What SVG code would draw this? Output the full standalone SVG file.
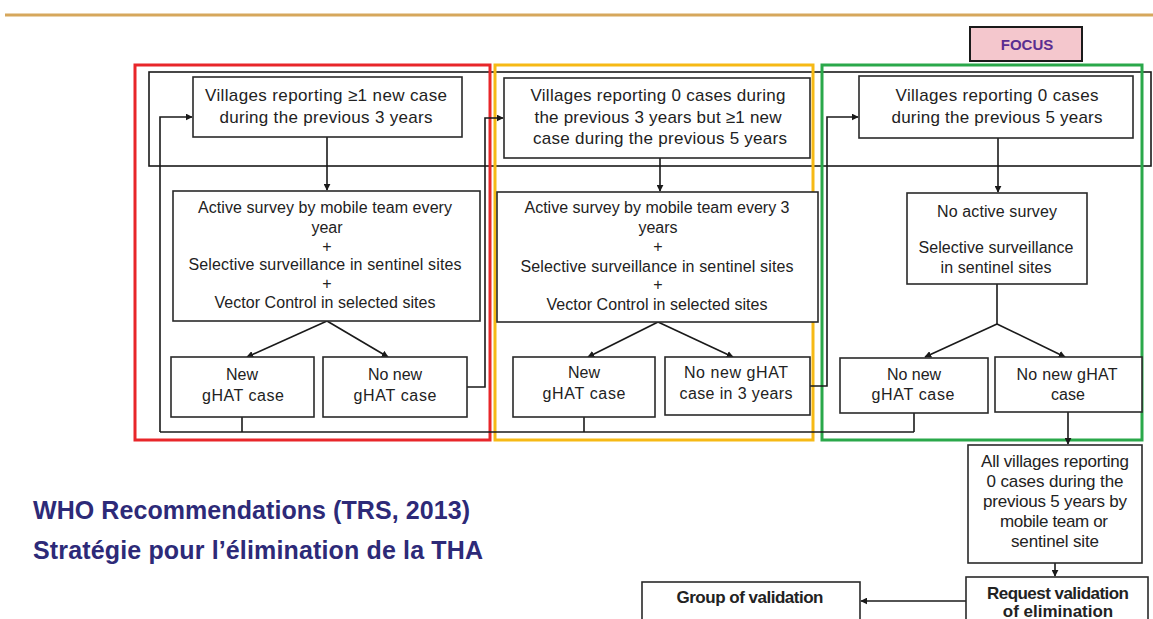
<svg xmlns="http://www.w3.org/2000/svg" width="1153" height="619" viewBox="0 0 1153 619">
<defs>
<marker id="ah" viewBox="0 0 10 10" refX="9" refY="5" markerWidth="7" markerHeight="7" markerUnits="userSpaceOnUse" orient="auto"><path d="M0,0 L10,5 L0,10 z" fill="#1a1a1a"/></marker>
<style>
.box{fill:#fff;stroke:#2a2a2a;stroke-width:1.6}
.t{font-family:"Liberation Sans",Arial,sans-serif;fill:#222;text-anchor:middle}
.s16{font-size:17px}
.s15{font-size:16px}
.b{font-weight:bold}
.ln{fill:none;stroke:#1a1a1a;stroke-width:1.6}
.ar{fill:none;stroke:#1a1a1a;stroke-width:1.6;marker-end:url(#ah)}
.title{font-family:"Liberation Sans",Arial,sans-serif;font-weight:bold;font-size:25px;fill:#2d2a78}
</style>
</defs>
<rect width="1153" height="619" fill="#fff"/>
<line x1="5" y1="15" x2="1153" y2="15" stroke="#d6a75c" stroke-width="3"/>

<g id="band"><rect x="149" y="72" width="1002" height="94" class="ln"/></g>

<g id="frames">
<rect x="135" y="65" width="355" height="375" fill="none" stroke="#e8262a" stroke-width="3"/>
<rect x="495" y="65" width="318" height="375" fill="none" stroke="#f6b915" stroke-width="3"/>
<rect x="822" y="65" width="320" height="375" fill="none" stroke="#2aa84a" stroke-width="3"/>
</g>

<g id="focus">
<rect x="970" y="27" width="112" height="34" fill="#f4c7cd" stroke="#1a1a1a" stroke-width="2"/>
<text x="1027" y="50" class="t b" style="font-size:15px;fill:#5a2d91">FOCUS</text>
</g>

<g id="connectors">
<line x1="327" y1="137" x2="327" y2="190" class="ar"/>
<line x1="327" y1="321" x2="247" y2="357" class="ar"/>
<line x1="327" y1="321" x2="388" y2="357" class="ar"/>
<line x1="242" y1="417" x2="242" y2="432" class="ln"/>
<line x1="584" y1="417" x2="584" y2="432" class="ln"/>
<line x1="914" y1="413" x2="914" y2="432" class="ln"/>
<line x1="160" y1="432" x2="914" y2="432" class="ln"/>
<path d="M160,432 V117 H192" class="ar"/>
<path d="M467,387 H485 V118 H503" class="ar"/>
<line x1="660" y1="158" x2="660" y2="191" class="ar"/>
<line x1="658" y1="322" x2="588" y2="357" class="ar"/>
<line x1="658" y1="322" x2="733" y2="357" class="ar"/>
<path d="M810,386 H827 V117 H858" class="ar"/>
<line x1="998" y1="138" x2="998" y2="192" class="ar"/>
<line x1="997" y1="284" x2="997" y2="324" class="ln"/>
<line x1="997" y1="324" x2="925" y2="357" class="ar"/>
<line x1="997" y1="324" x2="1065" y2="357" class="ar"/>
<line x1="1068" y1="412" x2="1068" y2="444" class="ar"/>
<line x1="1055" y1="563" x2="1055" y2="576" class="ar"/>
<line x1="966" y1="601" x2="861" y2="601" class="ar"/>
</g>

<g id="nodeA">
<rect x="193" y="77" width="269" height="60" class="box"/>
<text x="326" y="101" class="t s16" textLength="242" lengthAdjust="spacing">Villages reporting ≥1 new case</text>
<text x="326" y="123" class="t s16" textLength="213" lengthAdjust="spacing">during the previous 3 years</text>
</g>
<g id="nodeB">
<rect x="173" y="191" width="307" height="130" class="box"/>
<text x="325" y="213" class="t s15" textLength="254" lengthAdjust="spacing">Active survey by mobile team every</text>
<text x="327" y="233" class="t s15">year</text>
<text x="327" y="252" class="t s15">+</text>
<text x="325" y="270" class="t s15" textLength="273" lengthAdjust="spacing">Selective surveillance  in sentinel sites</text>
<text x="327" y="289" class="t s15">+</text>
<text x="325" y="308" class="t s15" textLength="221" lengthAdjust="spacing">Vector Control in selected sites</text>
</g>
<g id="nodeC">
<rect x="171" y="357" width="143" height="60" class="box"/>
<text x="242" y="380" class="t s15">New</text>
<text x="243" y="401" class="t s15" textLength="82" lengthAdjust="spacing">gHAT case</text>
</g>
<g id="nodeD">
<rect x="323" y="357" width="144" height="60" class="box"/>
<text x="395" y="380" class="t s15">No new</text>
<text x="395" y="401" class="t s15" textLength="83" lengthAdjust="spacing">gHAT case</text>
</g>

<g id="nodeE">
<rect x="504" y="78" width="306" height="80" class="box"/>
<text x="658" y="101" class="t s16" textLength="255" lengthAdjust="spacing">Villages reporting 0 cases during</text>
<text x="658" y="123" class="t s16" textLength="247" lengthAdjust="spacing">the previous 3 years but ≥1 new</text>
<text x="660" y="144" class="t s16" textLength="254" lengthAdjust="spacing">case during the previous 5 years</text>
</g>
<g id="nodeF">
<rect x="497" y="192" width="321" height="130" class="box"/>
<text x="657" y="213" class="t s15" textLength="265" lengthAdjust="spacing">Active survey by mobile team every 3</text>
<text x="658" y="233" class="t s15">years</text>
<text x="658" y="252" class="t s15">+</text>
<text x="657" y="272" class="t s15" textLength="273" lengthAdjust="spacing">Selective surveillance  in sentinel sites</text>
<text x="658" y="290" class="t s15">+</text>
<text x="657" y="310" class="t s15" textLength="221" lengthAdjust="spacing">Vector Control in selected sites</text>
</g>
<g id="nodeG">
<rect x="513" y="357" width="142" height="60" class="box"/>
<text x="584" y="378" class="t s15">New</text>
<text x="584" y="399" class="t s15" textLength="83" lengthAdjust="spacing">gHAT case</text>
</g>
<g id="nodeH">
<rect x="665" y="357" width="145" height="58" class="box"/>
<text x="736" y="378" class="t s15" textLength="104" lengthAdjust="spacing">No new gHAT</text>
<text x="736" y="399" class="t s15" textLength="113" lengthAdjust="spacing">case in 3 years</text>
</g>

<g id="nodeI">
<rect x="859" y="76" width="274" height="62" class="box"/>
<text x="997" y="101" class="t s16" textLength="203" lengthAdjust="spacing">Villages reporting 0 cases</text>
<text x="997" y="123" class="t s16" textLength="211" lengthAdjust="spacing">during the previous 5 years</text>
</g>
<g id="nodeJ">
<rect x="907" y="193" width="180" height="91" class="box"/>
<text x="997" y="217" class="t s15" textLength="120" lengthAdjust="spacing">No active survey</text>
<text x="996" y="253" class="t s15" textLength="155" lengthAdjust="spacing">Selective surveillance</text>
<text x="996" y="273" class="t s15" textLength="111" lengthAdjust="spacing">in sentinel sites</text>
</g>
<g id="nodeK">
<rect x="840" y="358" width="148" height="55" class="box"/>
<text x="914" y="380" class="t s15">No new</text>
<text x="913" y="400" class="t s15" textLength="83" lengthAdjust="spacing">gHAT case</text>
</g>
<g id="nodeL">
<rect x="995" y="357" width="147" height="55" class="box"/>
<text x="1067" y="380" class="t s15" textLength="101" lengthAdjust="spacing">No new  gHAT</text>
<text x="1068" y="400" class="t s15">case</text>
</g>

<g id="nodeM">
<rect x="968" y="445" width="174" height="118" class="box"/>
<text x="1055" y="467" class="t s16" textLength="148" lengthAdjust="spacing">All villages reporting</text>
<text x="1055" y="487" class="t s16" textLength="137" lengthAdjust="spacing">0 cases during the</text>
<text x="1055" y="507" class="t s16" textLength="144" lengthAdjust="spacing">previous 5 years by</text>
<text x="1054" y="527" class="t s16" textLength="108" lengthAdjust="spacing">mobile team or</text>
<text x="1055" y="547" class="t s16" textLength="88" lengthAdjust="spacing">sentinel site</text>
</g>
<g id="nodeN">
<rect x="966" y="577" width="182" height="50" class="box"/>
<text x="1058" y="599" class="t s16 b" textLength="142" lengthAdjust="spacing">Request validation</text>
<text x="1058" y="617" class="t s16 b">of elimination</text>
</g>
<g id="nodeO">
<rect x="642" y="582" width="218" height="50" class="box"/>
<text x="750" y="603" class="t s16 b" textLength="147" lengthAdjust="spacing">Group of validation</text>
</g>

<g id="titles">
<text x="33" y="519" class="title" textLength="437" lengthAdjust="spacing">WHO Recommendations (TRS, 2013)</text>
<text x="33" y="559" class="title" textLength="450" lengthAdjust="spacing">Stratégie pour l’élimination de la THA</text>
</g>
</svg>
